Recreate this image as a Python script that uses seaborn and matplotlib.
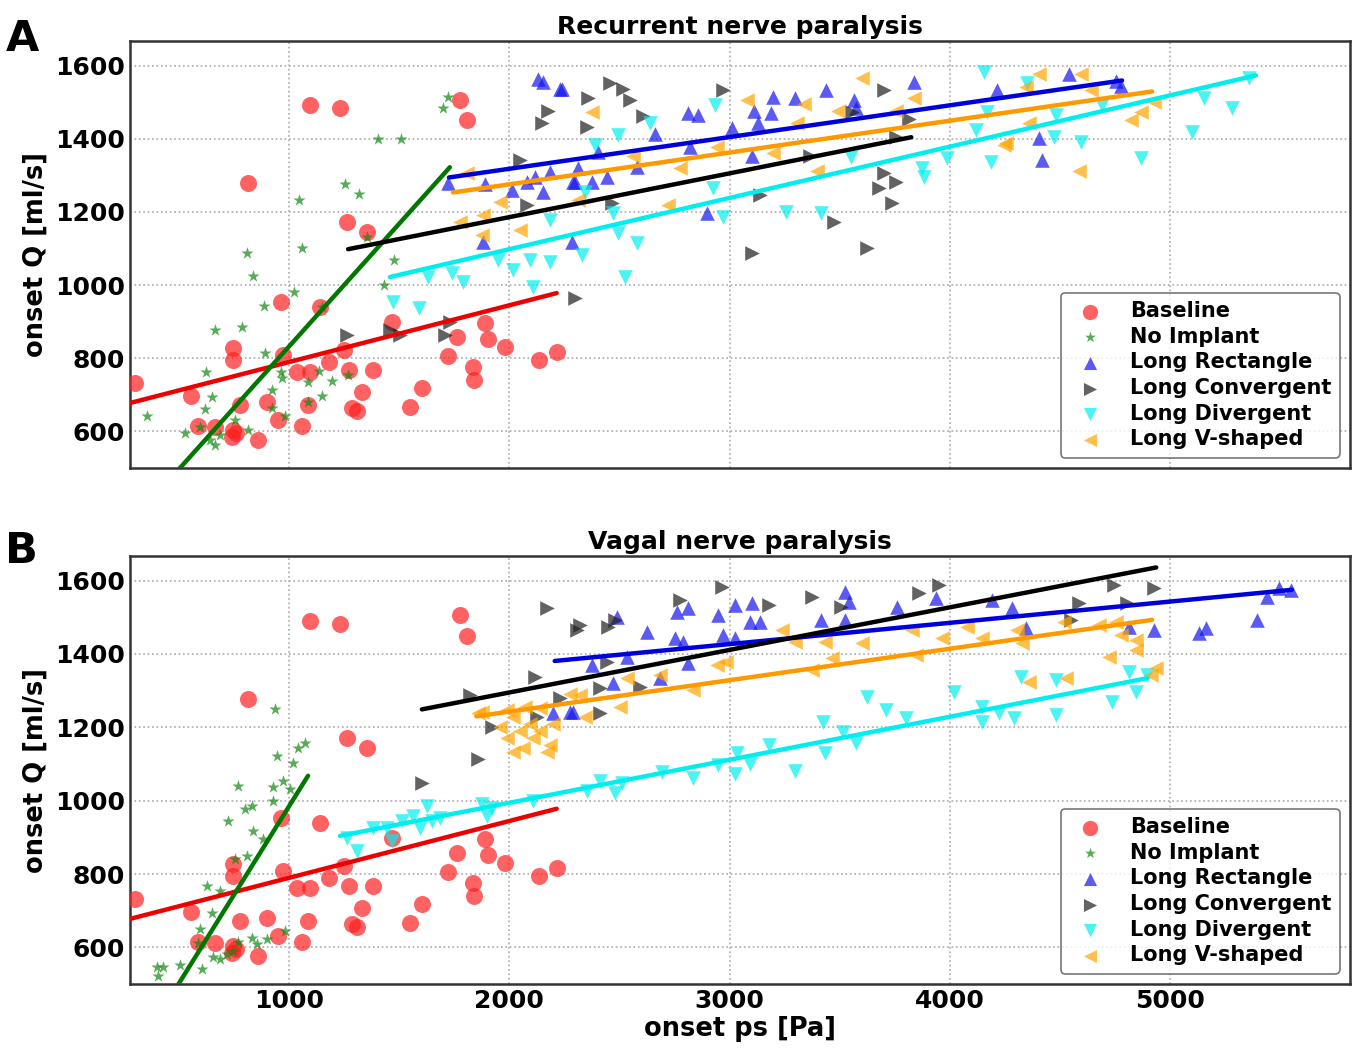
import numpy as np
import pandas as pd
import matplotlib
matplotlib.use("Agg")
import matplotlib.pyplot as plt
import seaborn as sns

sns.set_style("white")
plt.rcParams['font.family'] = ['DejaVu Sans']
plt.rcParams['font.weight'] = 'bold'
plt.rcParams['text.color'] = 'black'
plt.rcParams['axes.labelcolor'] = 'black'
plt.rcParams['xtick.color'] = 'black'
plt.rcParams['ytick.color'] = 'black'

groups = ["Baseline", "No Implant", "Long Rectangle", "Long Convergent", "Long Divergent", "Long V-shaped"]
colors = {"Baseline": "#ff2020", "No Implant": "#118811", "Long Rectangle": "#1515ee",
          "Long Convergent": "#202020", "Long Divergent": "#00eeee", "Long V-shaped": "#ffa500"}
line_colors = {"Baseline": "#ee0000", "No Implant": "#007700", "Long Rectangle": "#0000dd",
               "Long Convergent": "#000000", "Long Divergent": "#00eeee", "Long V-shaped": "#ff9900"}
markers = {"Baseline": "o", "No Implant": "*", "Long Rectangle": "^",
           "Long Convergent": ">", "Long Divergent": "v", "Long V-shaped": "<"}
msizes = {"Baseline": 150, "No Implant": 85, "Long Rectangle": 110,
          "Long Convergent": 110, "Long Divergent": 110, "Long V-shaped": 110}

# ---- Baseline (same in both panels)
base_x = [1095, 1231, 1776, 1807, 814, 1263, 1354, 964, 1141, 1467, 1889, 1902, 1762, 1980, 2215, 2134,
          1721, 1834, 1839, 1603, 1549, 746, 746, 973, 1249, 1181, 1036, 1095, 1272, 1381, 302, 556,
          778, 900, 1086, 1331, 1286, 1308, 587, 664, 746, 950, 1059, 741, 859, 760]
base_y = [1491, 1483, 1505, 1450, 1278, 1172, 1144, 953, 940, 899, 896, 852, 858, 831, 817, 795,
          806, 776, 740, 719, 667, 828, 795, 809, 822, 790, 762, 762, 768, 768, 732, 697,
          672, 681, 672, 708, 664, 656, 615, 612, 604, 631, 615, 585, 577, 595]

# ---- Panel A: recurrent nerve paralysis
noimp_A_x = [1721, 1698, 1404, 1508, 1254, 1317, 1045, 1059, 809, 837, 1476, 1431, 1023, 887, 664, 787,
             1354, 1150, 891, 624, 964, 1136, 1195, 1086, 968, 1268, 923, 651, 1150, 619, 923, 982,
             356, 528, 596, 687, 755, 814, 664, 1086, 642]
noimp_A_y = [1513, 1485, 1398, 1398, 1275, 1248, 1232, 1101, 1087, 1024, 1068, 1000, 981, 942, 877, 885,
             1131, 940, 814, 762, 762, 765, 738, 735, 746, 754, 713, 694, 697, 661, 664, 642,
             642, 596, 612, 590, 631, 604, 563, 681, 577]
rect_A_x = [2129, 2152, 2229, 1721, 1889, 2011, 2079, 2116, 2152, 2184, 2288, 1880, 2283, 2238, 2810, 2855,
            2660, 3009, 3113, 3195, 3190, 3295, 3440, 3127, 3567, 3576, 3839, 3100, 2401, 2311, 2297, 2374,
            2442, 2578, 2819, 2896, 4406, 4420, 4215, 4542, 4755, 4778]
rect_A_y = [1562, 1554, 1537, 1278, 1275, 1259, 1281, 1294, 1253, 1308, 1281, 1117, 1117, 1537, 1469, 1464,
            1414, 1428, 1477, 1513, 1469, 1510, 1532, 1442, 1505, 1485, 1554, 1354, 1363, 1319, 1281, 1281,
            1294, 1322, 1376, 1196, 1401, 1341, 1532, 1578, 1559, 1545]
conv_A_x = [2175, 2147, 2048, 2079, 1263, 1458, 1503, 1708, 1730, 2456, 2515, 2546, 2356, 2351, 2605, 2968,
            3703, 3558, 3816, 3757, 3363, 3703, 3757, 3680, 3739, 3136, 2465, 3476, 3100, 3626, 2297]
conv_A_y = [1477, 1444, 1341, 1218, 863, 877, 863, 863, 899, 1551, 1537, 1505, 1510, 1431, 1461, 1532,
            1532, 1472, 1455, 1404, 1354, 1305, 1281, 1264, 1223, 1245, 1223, 1172, 1087, 1101, 964]
div_A_x = [1472, 1590, 1630, 1739, 1789, 1948, 2016, 2093, 2184, 2107, 2184, 2492, 2388, 2637, 2932, 2342,
           2469, 2492, 2329, 2578, 2524, 2923, 2968, 3258, 3417, 3553, 3875, 3884, 3989, 4120, 4188, 4156,
           4170, 4483, 4474, 4596, 4868, 5154, 5281, 5100, 4692, 4351, 5358]
div_A_y = [953, 937, 1022, 1032, 1008, 1068, 1041, 1068, 1063, 994, 1177, 1409, 1382, 1444, 1491, 1253,
           1196, 1142, 1082, 1114, 1022, 1264, 1185, 1199, 1196, 1349, 1319, 1294, 1346, 1423, 1335, 1581,
           1472, 1464, 1404, 1390, 1346, 1510, 1485, 1417, 1491, 1551, 1567]
vsh_A_x = [1957, 1880, 1776, 1875, 2048, 1807, 2311, 2374, 3077, 3340, 3490, 3603, 3839, 3757, 3304, 2941,
           2773, 2560, 3195, 3399, 2719, 4406, 4347, 4361, 4256, 4596, 4247, 4823, 4868, 4927, 4587, 4642]
vsh_A_y = [1226, 1191, 1172, 1136, 1150, 1305, 1232, 1472, 1505, 1496, 1477, 1567, 1510, 1477, 1444, 1376,
           1319, 1354, 1360, 1313, 1218, 1578, 1540, 1444, 1387, 1578, 1382, 1450, 1472, 1499, 1313, 1532]

# fit lines (endpoints)
fitA_x = {"Baseline": [280, 2215], "No Implant": [430, 1730], "Long Rectangle": [1726, 4782],
          "Long Convergent": [1268, 3825], "Long Divergent": [1458, 5390], "Long V-shaped": [1744, 4918]}
fitA_y = {"Baseline": [678, 978], "No Implant": [450, 1322], "Long Rectangle": [1294, 1559],
          "Long Convergent": [1098, 1404], "Long Divergent": [1022, 1573], "Long V-shaped": [1253, 1529]}

# ---- Panel B: vagal nerve paralysis
noimp_B_x = [937, 1073, 1041, 946, 1018, 973, 927, 1005, 769, 832, 800, 927, 723, 837, 882, 755,
             809, 628, 687, 651, 596, 506, 401, 429, 406, 605, 655, 687, 746, 769, 832, 900,
             982, 855, 719, 587]
noimp_B_y = [1249, 1156, 1145, 1123, 1104, 1055, 1036, 1033, 1041, 986, 978, 1000, 945, 918, 896, 841,
             849, 767, 753, 693, 649, 553, 547, 547, 521, 542, 575, 567, 589, 616, 625, 622,
             644, 608, 581, 611]
rect_B_x = [2274, 2197, 2488, 2760, 2810, 2624, 2751, 2787, 2946, 3023, 3104, 3091, 3136, 2968, 3023, 3522,
            3544, 3522, 3417, 3762, 3939, 2533, 2810, 2683, 2469, 2374, 2288, 4193, 4283, 4347, 4814, 4927,
            5131, 5163, 5395, 5440, 5494, 5549]
rect_B_y = [1241, 1239, 1501, 1515, 1526, 1460, 1444, 1433, 1507, 1534, 1540, 1488, 1488, 1452, 1444, 1570,
            1542, 1493, 1493, 1529, 1553, 1392, 1375, 1334, 1321, 1370, 1241, 1548, 1526, 1471, 1474, 1466,
            1458, 1471, 1493, 1556, 1581, 1575]
conv_B_x = [2170, 2306, 2116, 1821, 1921, 1857, 1603, 2229, 2125, 2964, 2773, 3181, 3372, 2320, 2447, 2478,
            3508, 3862, 3952, 2442, 2410, 2410, 2592, 4746, 4927, 4587, 4805, 4551]
conv_B_y = [1526, 1466, 1337, 1288, 1200, 1115, 1049, 1279, 1227, 1584, 1548, 1534, 1556, 1479, 1474, 1493,
            1529, 1567, 1589, 1378, 1307, 1238, 1310, 1589, 1581, 1540, 1540, 1493]
div_B_x = [1263, 1308, 1381, 1444, 1512, 1562, 1626, 1649, 1685, 1594, 1875, 1921, 1898, 2107, 1467, 2351,
           2410, 2478, 2510, 2692, 2832, 2946, 3032, 3023, 3091, 3181, 3295, 3422, 3431, 3513, 3576, 3626,
           3712, 3803, 4020, 4147, 4147, 4224, 4293, 4324, 4483, 4483, 4737, 4814, 4846, 4896]
div_B_y = [899, 863, 926, 926, 945, 959, 986, 945, 953, 926, 992, 981, 959, 1000, 890, 1027,
           1055, 1022, 1047, 1077, 1063, 1096, 1129, 1074, 1101, 1151, 1082, 1214, 1129, 1186, 1156, 1282,
           1247, 1225, 1296, 1255, 1214, 1238, 1225, 1337, 1329, 1233, 1268, 1351, 1296, 1342]
vsh_B_x = [1857, 1875, 1989, 2016, 2070, 2138, 1989, 2048, 2107, 2016, 2061, 2184, 2138, 2197, 2274, 2093,
           1957, 2170, 2320, 2342, 2501, 2533, 2683, 2941, 2986, 2832, 3240, 3295, 3431, 3599, 3467, 3376,
           3830, 3848, 3966, 4079, 4147, 4306, 4329, 4361, 4519, 4755, 4678, 4778, 4846, 4846, 4723, 4528,
           4937, 4914]
vsh_B_y = [1239, 1241, 1247, 1227, 1255, 1252, 1170, 1190, 1170, 1134, 1143, 1153, 1190, 1208, 1290, 1208,
           1200, 1134, 1288, 1227, 1255, 1334, 1342, 1370, 1378, 1301, 1466, 1433, 1433, 1430, 1389, 1356,
           1466, 1397, 1444, 1474, 1444, 1466, 1430, 1323, 1488, 1488, 1480, 1452, 1438, 1411, 1392, 1334,
           1362, 1342]

fitB_x = {"Baseline": [280, 2215], "No Implant": [440, 1086], "Long Rectangle": [2206, 5553],
          "Long Convergent": [1603, 4937], "Long Divergent": [1231, 4896], "Long V-shaped": [1850, 4918]}
fitB_y = {"Baseline": [678, 978], "No Implant": [444, 1068], "Long Rectangle": [1381, 1575],
          "Long Convergent": [1249, 1636], "Long Divergent": [904, 1334], "Long V-shaped": [1230, 1493]}

panelA = {"Baseline": (base_x, base_y), "No Implant": (noimp_A_x, noimp_A_y),
          "Long Rectangle": (rect_A_x, rect_A_y), "Long Convergent": (conv_A_x, conv_A_y),
          "Long Divergent": (div_A_x, div_A_y), "Long V-shaped": (vsh_A_x, vsh_A_y)}
panelB = {"Baseline": (base_x, base_y), "No Implant": (noimp_B_x, noimp_B_y),
          "Long Rectangle": (rect_B_x, rect_B_y), "Long Convergent": (conv_B_x, conv_B_y),
          "Long Divergent": (div_B_x, div_B_y), "Long V-shaped": (vsh_B_x, vsh_B_y)}

fig = plt.figure(figsize=(13.59, 10.51), dpi=100)
axA = fig.add_axes([0.0957, 0.5547, 0.8977, 0.4063])
axB = fig.add_axes([0.0957, 0.0637, 0.8977, 0.4072])


def draw(ax, pdata, fx, fy, title):
    for g in groups:
        xs, ys = pdata[g]
        df = pd.DataFrame({"x": xs, "y": ys})
        sns.scatterplot(data=df, x="x", y="y", ax=ax, color=colors[g], marker=markers[g],
                        s=msizes[g], alpha=0.7, linewidth=0, label=g, legend=False, zorder=3)
    for g in groups:
        ldf = pd.DataFrame({"x": fx[g], "y": fy[g]})
        sns.lineplot(data=ldf, x="x", y="y", ax=ax, color=line_colors[g], lw=3.2,
                     legend=False, zorder=4, estimator=None, sort=False)
    ax.set_xlim(278, 5817)
    ax.set_ylim(500, 1667)
    ax.set_xticks([1000, 2000, 3000, 4000, 5000])
    ax.set_yticks([600, 800, 1000, 1200, 1400, 1600])
    ax.grid(True, linestyle=':', color='#aaaaaa', lw=1.2)
    ax.set_axisbelow(True)
    for sp in ax.spines.values():
        sp.set_color('#333333')
        sp.set_linewidth(1.8)
    ax.tick_params(direction='in', length=5, labelsize=18, colors='black')
    for lab in ax.get_xticklabels() + ax.get_yticklabels():
        lab.set_fontweight('bold')
    ax.set_title(title, fontsize=18, fontweight='bold', pad=5, color='black')
    ax.set_ylabel("onset Q [ml/s]", fontsize=18.5, fontweight='bold', labelpad=5, color='black')
    handles, labels = ax.get_legend_handles_labels()
    leg = ax.legend(handles, labels, loc='lower right', fontsize=15, frameon=True,
                    fancybox=True, edgecolor='#555555', markerscale=0.9,
                    handletextpad=0.9, borderpad=0.4, labelspacing=0.27, borderaxespad=0.5)
    for t in leg.get_texts():
        t.set_fontweight('bold')
        t.set_color('black')
    leg.get_frame().set_linewidth(1.2)


draw(axA, panelA, fitA_x, fitA_y, "Recurrent nerve paralysis")
draw(axB, panelB, fitB_x, fitB_y, "Vagal nerve paralysis")
axA.set_xticklabels([])
axA.set_xlabel("")
axB.set_xlabel("onset ps [Pa]", fontsize=18.5, fontweight='bold', labelpad=2, color='black')

fig.text(0.004, 0.963, "A", fontsize=31, fontweight='bold', va='center', color='black')
fig.text(0.004, 0.476, "B", fontsize=31, fontweight='bold', va='center', color='black')

fig.savefig("out.png", dpi=100)
